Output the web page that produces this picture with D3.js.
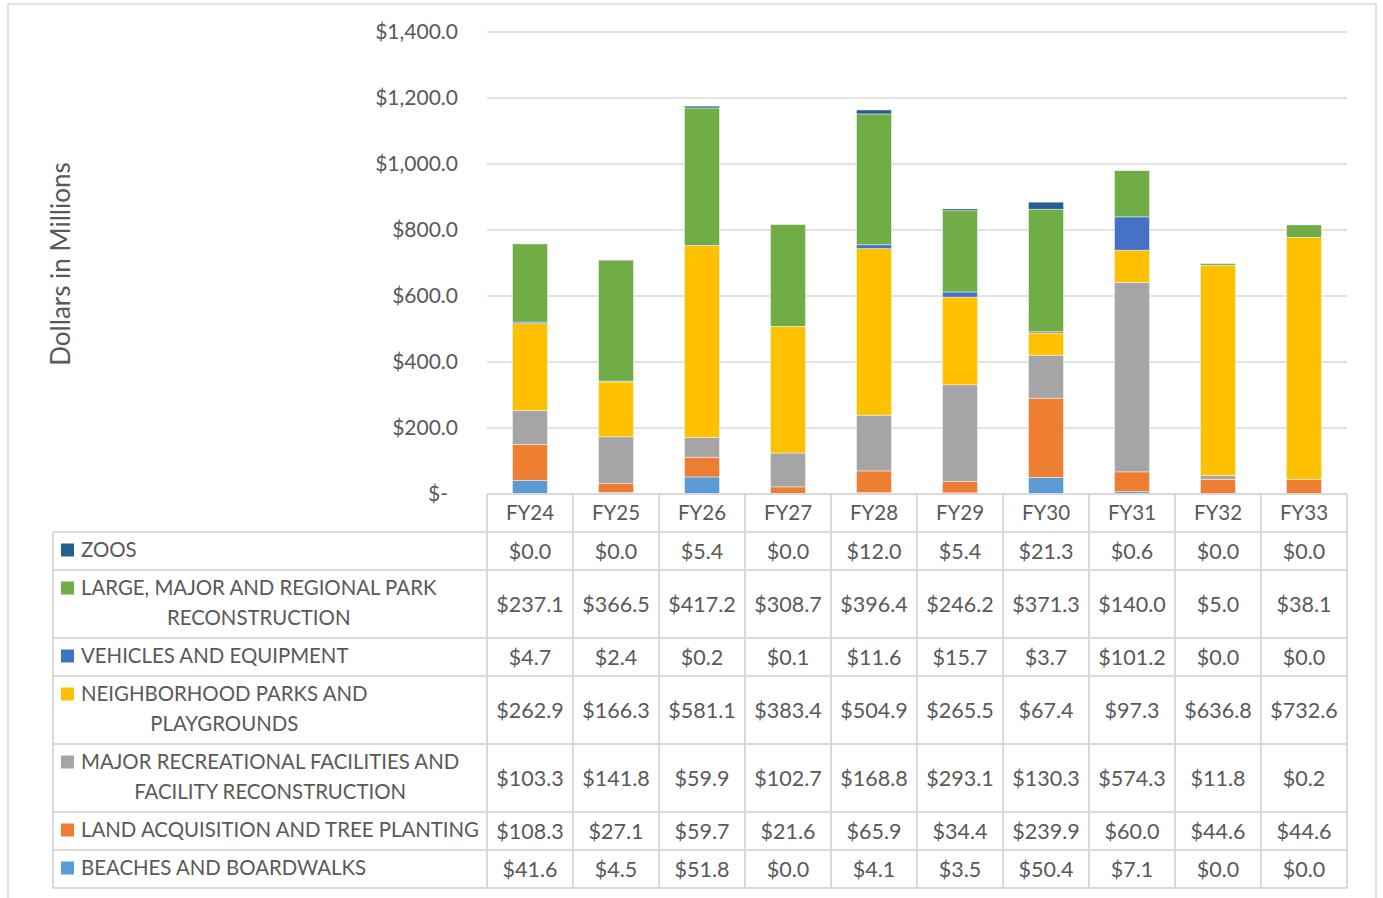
<!DOCTYPE html>
<html>
<head>
<meta charset="utf-8">
<script src="https://cdn.jsdelivr.net/npm/d3@7"></script>
<style>
  body { margin: 0; background: #fff; }
  text { font-family: Lato, "Open Sans", sans-serif; fill: #595959; }
</style>
</head>
<body>
<div id="vis"></div>
<script>
// Fiscal years (columns)
const years = ["FY24", "FY25", "FY26", "FY27", "FY28", "FY29", "FY30", "FY31", "FY32", "FY33"];

// Series as listed in the table, top row first ("\n" = line break in the label cell)
const seriesNames = [
  "ZOOS",
  "LARGE, MAJOR AND REGIONAL PARK\nRECONSTRUCTION",
  "VEHICLES AND EQUIPMENT",
  "NEIGHBORHOOD PARKS AND\nPLAYGROUNDS",
  "MAJOR RECREATIONAL FACILITIES AND\nFACILITY RECONSTRUCTION",
  "LAND ACQUISITION AND TREE PLANTING",
  "BEACHES AND BOARDWALKS"
];
const seriesColors = ["#255e91", "#70ad47", "#4472c4", "#ffc000", "#a5a5a5", "#ed7d31", "#5b9bd5"];

const zoos         = [0.0, 0.0, 5.4, 0.0, 12.0, 5.4, 21.3, 0.6, 0.0, 0.0];
const largeParks   = [237.1, 366.5, 417.2, 308.7, 396.4, 246.2, 371.3, 140.0, 5.0, 38.1];
const vehicles     = [4.7, 2.4, 0.2, 0.1, 11.6, 15.7, 3.7, 101.2, 0.0, 0.0];
const neighborhood = [262.9, 166.3, 581.1, 383.4, 504.9, 265.5, 67.4, 97.3, 636.8, 732.6];
const majorRec     = [103.3, 141.8, 59.9, 102.7, 168.8, 293.1, 130.3, 574.3, 11.8, 0.2];
const landAcq      = [108.3, 27.1, 59.7, 21.6, 65.9, 34.4, 239.9, 60.0, 44.6, 44.6];
const beaches      = [41.6, 4.5, 51.8, 0.0, 4.1, 3.5, 50.4, 7.1, 0.0, 0.0];

const seriesValues = [zoos, largeParks, vehicles, neighborhood, majorRec, landAcq, beaches];
const yTicks = [0, 200, 400, 600, 800, 1000, 1200, 1400];

// Layout
const width = 1383, height = 898;
const plotLeft = 487, plotRight = 1347, plotTop = 32, plotBottom = 494;
const tableLeft = 53;
const headerH = 38, lineRowH = 38, extraLineH = 30;
const grid = "#d9d9d9";

const svg = d3.select("#vis").append("svg")
  .attr("width", width)
  .attr("height", height);

// Outer chart border
svg.append("rect")
  .attr("x", 8).attr("y", 4)
  .attr("width", 1368).attr("height", height + 10)
  .attr("fill", "none")
  .attr("stroke", grid)
  .attr("stroke-width", 1.5);

// Scales
const x = d3.scaleBand()
  .domain(years)
  .range([plotLeft, plotRight])
  .paddingInner(0.593)
  .paddingOuter(0.2965);

const y = d3.scaleLinear()
  .domain([0, 1400])
  .range([plotBottom, plotTop]);

// Gridlines
svg.append("g")
  .selectAll("line")
  .data(yTicks.slice(1))
  .join("line")
  .attr("x1", plotLeft).attr("x2", plotRight)
  .attr("y1", d => y(d)).attr("y2", d => y(d))
  .attr("stroke", grid)
  .attr("stroke-width", 1.5);

// Y axis labels
const fmt = d3.format("$,.1f");
const yAxis = svg.append("g")
  .attr("transform", `translate(${plotLeft - 29},0)`)
  .call(d3.axisLeft(y).tickValues(yTicks).tickSize(0).tickPadding(0)
    .tickFormat(d => d === 0 ? "$-" : fmt(d)));
yAxis.select(".domain").remove();
yAxis.selectAll("text")
  .attr("font-size", "21px")
  .attr("fill", "#595959")
  .style("font-family", "Lato, 'Open Sans', sans-serif");
yAxis.selectAll(".tick").filter(d => d === 0).select("text").attr("dx", -10);

// Axis title
svg.append("text")
  .attr("transform", `translate(70, 264) rotate(-90)`)
  .attr("text-anchor", "middle")
  .attr("font-size", "26px")
  .text("Dollars in Millions");

// Stacked bars: bottom of stack is the last table row
const stackOrder = d3.range(seriesNames.length).reverse();
const rows = years.map((yr, i) => {
  const o = { year: yr };
  seriesValues.forEach((vals, s) => { o["s" + s] = vals[i]; });
  return o;
});
const stack = d3.stack().keys(stackOrder.map(s => "s" + s));
const layers = stack(rows);

svg.append("g")
  .selectAll("g")
  .data(layers)
  .join("g")
  .attr("fill", d => seriesColors[+d.key.slice(1)])
  .selectAll("rect")
  .data(d => d)
  .join("rect")
  .attr("x", d => x(d.data.year))
  .attr("width", x.bandwidth())
  .attr("y", d => y(d[1]))
  .attr("height", d => y(d[0]) - y(d[1]))
  .attr("stroke", "#ffffff")
  .attr("stroke-opacity", 0.6)
  .attr("stroke-width", 0.75);

// Data table
const table = svg.append("g");
const colStep = x.step();
const colEdges = years.map((yr, i) => plotLeft + i * colStep);

// row geometry
const rowLines = seriesNames.map(n => n.split("\n"));
const rowTops = [];
let cy = plotBottom + headerH;
rowLines.forEach(lines => {
  rowTops.push(cy);
  cy += lineRowH + (lines.length - 1) * extraLineH;
});
const tableBottom = cy;

// header labels
table.selectAll(".hdr")
  .data(years)
  .join("text")
  .attr("x", d => x(d) + x.bandwidth() / 2)
  .attr("y", plotBottom + headerH / 2)
  .attr("dy", "0.35em")
  .attr("text-anchor", "middle")
  .attr("font-size", "20.5px")
  .text(d => d);

// horizontal lines
const hLines = [plotBottom].concat(rowTops, [tableBottom]);
table.selectAll(".hl")
  .data(hLines)
  .join("line")
  .attr("x1", (d, i) => i === 0 ? plotLeft : tableLeft)
  .attr("x2", plotRight)
  .attr("y1", d => d).attr("y2", d => d)
  .attr("stroke", grid)
  .attr("stroke-width", 2);

// vertical lines
const vLines = colEdges.concat([plotRight]);
table.selectAll(".vl")
  .data(vLines)
  .join("line")
  .attr("x1", d => d).attr("x2", d => d)
  .attr("y1", plotBottom).attr("y2", tableBottom)
  .attr("stroke", grid)
  .attr("stroke-width", 2);
table.append("line")
  .attr("x1", tableLeft).attr("x2", tableLeft)
  .attr("y1", rowTops[0]).attr("y2", tableBottom)
  .attr("stroke", grid)
  .attr("stroke-width", 2);

// rows: legend key, label, values
rowLines.forEach((lines, r) => {
  const top = rowTops[r];
  const h = lineRowH + (lines.length - 1) * extraLineH;
  const firstMid = top + lineRowH / 2 - 1;

  table.append("rect")
    .attr("x", 61).attr("y", firstMid - 6.5)
    .attr("width", 13).attr("height", 13)
    .attr("fill", seriesColors[r]);

  const first = table.append("text")
    .attr("x", 81).attr("y", firstMid)
    .attr("dy", "0.35em")
    .attr("font-size", "20.4px")
    .text(lines[0]);
  const w = first.node().getComputedTextLength();
  lines.slice(1).forEach((ln, k) => {
    table.append("text")
      .attr("x", 81 + w / 2)
      .attr("y", firstMid + (k + 1) * extraLineH)
      .attr("dy", "0.35em")
      .attr("text-anchor", "middle")
      .attr("font-size", "20.4px")
      .text(ln);
  });

  table.selectAll(null)
    .data(seriesValues[r])
    .join("text")
    .attr("x", (d, i) => x(years[i]) + x.bandwidth() / 2)
    .attr("y", top + h / 2)
    .attr("dy", "0.35em")
    .attr("text-anchor", "middle")
    .attr("font-size", "21.5px")
    .text(d => "$" + d3.format(",.1f")(d));
});
</script>
</body>
</html>
